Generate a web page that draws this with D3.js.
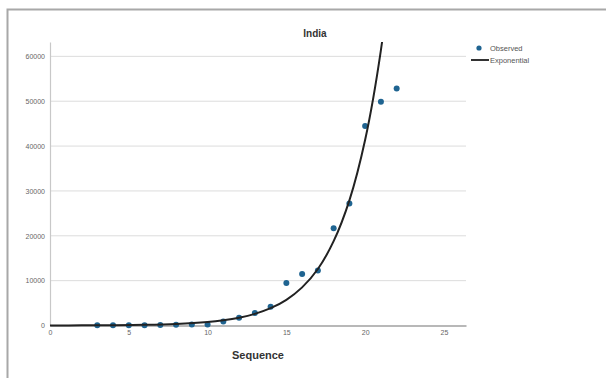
<!DOCTYPE html>
<html>
<head>
<meta charset="utf-8">
<script src="https://cdn.jsdelivr.net/npm/d3@7"></script>
<style>
  body { margin: 0; background: #fff; }
  svg { display: block; font-family: Arial, "Liberation Sans", sans-serif; }
</style>
</head>
<body>
<div id="chart"></div>
<script>
const width = 606;
const height = 378;

// observed counts by sequence day
const seqObserved = [3, 4, 5, 6, 7, 8, 9, 10, 11, 12, 13, 14, 15, 16, 17, 18, 19, 20, 21, 22];
const observed = [30, 40, 60, 80, 100, 150, 200, 250, 900, 1750, 2800, 4200, 9500, 11500, 12250, 21700, 27200, 44500, 49900, 52850];

// exponential fit values
const seqFit = [0, 2, 4, 6, 8, 10, 11, 12, 13, 14, 15, 16, 17, 18, 19, 20, 21, 22];
const fitted = [15, 33, 73, 160, 360, 790, 1180, 1750, 2600, 3860, 5730, 8500, 12600, 18800, 27900, 41400, 61400, 91000];

const xTicks = [0, 5, 10, 15, 20, 25];
const yTicks = [0, 10000, 20000, 30000, 40000, 50000, 60000];

const svg = d3.select("#chart")
    .append("svg")
    .attr("width", width)
    .attr("height", height);

// outer frame
svg.append("rect")
    .attr("x", 7.5)
    .attr("y", 9.5)
    .attr("width", 610)
    .attr("height", 380)
    .attr("fill", "none")
    .attr("stroke", "#a8a8a8")
    .attr("stroke-width", 2);

const x = d3.scaleLinear().domain([0, 26.4]).range([50, 466]);
const y = d3.scaleLinear().domain([0, 63200]).range([325.5, 42]);

// gridlines
svg.append("g")
    .selectAll("line")
    .data(yTicks.filter(d => d > 0))
    .enter().append("line")
    .attr("x1", x(0))
    .attr("x2", x(26.4))
    .attr("y1", d => y(d))
    .attr("y2", d => y(d))
    .attr("stroke", "#dcdcdc")
    .attr("stroke-width", 1);

// axes
const xAxis = svg.append("g")
    .attr("transform", `translate(0,${y(0)})`)
    .call(d3.axisBottom(x).tickValues(xTicks).tickSize(0).tickPadding(5));
xAxis.select(".domain").attr("stroke", "#b8b8b8").attr("stroke-width", 2);
xAxis.selectAll("text").attr("fill", "#666").attr("font-size", 7);

const yAxis = svg.append("g")
    .attr("transform", `translate(${x(0)},0)`)
    .call(d3.axisLeft(y).tickValues(yTicks).tickSize(0).tickPadding(5).tickFormat(d3.format("d")));
yAxis.select(".domain").attr("stroke", "#c8c8c8").attr("stroke-width", 1.2);
yAxis.selectAll("text").attr("fill", "#666").attr("font-size", 7);

// observed points
svg.append("g")
    .selectAll("circle")
    .data(seqObserved.map((s, i) => [s, observed[i]]))
    .enter().append("circle")
    .attr("cx", d => x(d[0]))
    .attr("cy", d => y(d[1]))
    .attr("r", 3)
    .attr("fill", "#1f6491");

// exponential curve, clipped to plot area
svg.append("clipPath")
    .attr("id", "plot-clip")
    .append("rect")
    .attr("x", x(0))
    .attr("y", y(63200))
    .attr("width", x(26.4) - x(0))
    .attr("height", y(0) - y(63200) + 2);

const line = d3.line()
    .x(d => x(d[0]))
    .y(d => y(d[1]))
    .curve(d3.curveCatmullRom);

svg.append("path")
    .datum(seqFit.map((s, i) => [s, fitted[i]]))
    .attr("clip-path", "url(#plot-clip)")
    .attr("d", line)
    .attr("fill", "none")
    .attr("stroke", "#222")
    .attr("stroke-width", 2);

// title
svg.append("text")
    .attr("x", 315)
    .attr("y", 37)
    .attr("text-anchor", "middle")
    .attr("font-size", 10)
    .attr("font-weight", "bold")
    .attr("fill", "#333")
    .text("India");

// x axis title
svg.append("text")
    .attr("x", 258)
    .attr("y", 359)
    .attr("text-anchor", "middle")
    .attr("font-size", 11)
    .attr("font-weight", "bold")
    .attr("fill", "#333")
    .text("Sequence");

// legend
const legend = svg.append("g");
legend.append("circle")
    .attr("cx", 479)
    .attr("cy", 48)
    .attr("r", 2.6)
    .attr("fill", "#1f6491");
legend.append("text")
    .attr("x", 490)
    .attr("y", 51)
    .attr("font-size", 7.5)
    .attr("fill", "#555")
    .text("Observed");
legend.append("line")
    .attr("x1", 471)
    .attr("x2", 489)
    .attr("y1", 60)
    .attr("y2", 60)
    .attr("stroke", "#333")
    .attr("stroke-width", 2);
legend.append("text")
    .attr("x", 490)
    .attr("y", 63)
    .attr("font-size", 7.5)
    .attr("fill", "#555")
    .text("Exponential");
</script>
</body>
</html>
